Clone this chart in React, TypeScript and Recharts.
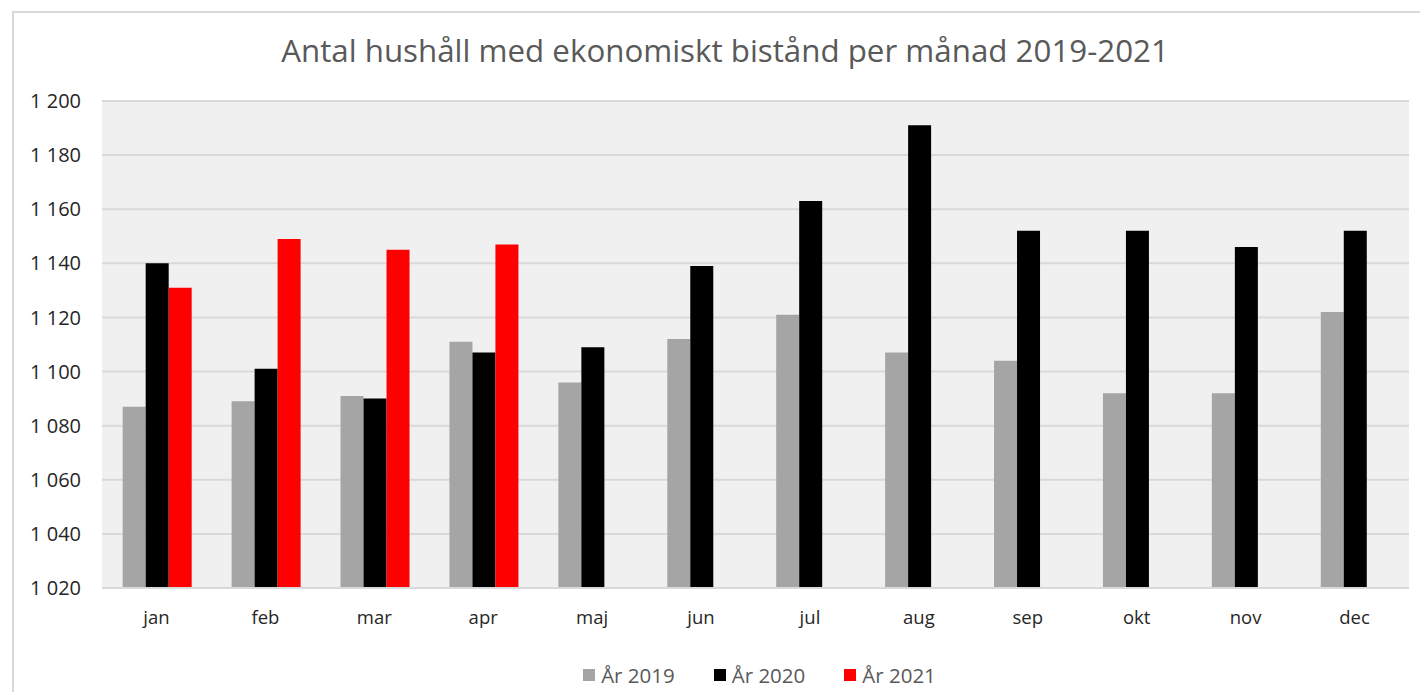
import React from 'react';
import {
  BarChart,
  Bar,
  XAxis,
  YAxis,
  CartesianGrid,
  Legend,
} from 'recharts';

const months = ['jan', 'feb', 'mar', 'apr', 'maj', 'jun', 'jul', 'aug', 'sep', 'okt', 'nov', 'dec'];
const year2019 = [1087, 1089, 1091, 1111, 1096, 1112, 1121, 1107, 1104, 1092, 1092, 1122];
const year2020 = [1140, 1101, 1090, 1107, 1109, 1139, 1163, 1191, 1152, 1152, 1146, 1152];
const year2021 = [1131, 1149, 1145, 1147, null, null, null, null, null, null, null, null];
const yTicks = [1020, 1040, 1060, 1080, 1100, 1120, 1140, 1160, 1180, 1200];

const series = [
  { key: 'y2019', name: 'År 2019', color: '#a5a5a5' },
  { key: 'y2020', name: 'År 2020', color: '#000000' },
  { key: 'y2021', name: 'År 2021', color: '#ff0000' },
];

const data = months.map((m, i) => ({
  month: m,
  y2019: year2019[i],
  y2020: year2020[i],
  y2021: year2021[i],
}));

const FONT = '"Open Sans", "Noto Sans", sans-serif';

// 1200 -> "1 200"
function fmt(v: number): string {
  const s = String(v);
  return s.length > 3 ? s.slice(0, s.length - 3) + ' ' + s.slice(-3) : s;
}

function LegendContent() {
  return (
    <div
      style={{
        display: 'flex',
        justifyContent: 'center',
        gap: 39,
        paddingLeft: 96,
        fontFamily: FONT,
        fontSize: 20.5,
        color: '#595959',
        lineHeight: '26px',
      }}
    >
      {series.map((s) => (
        <div key={s.key} style={{ display: 'flex', alignItems: 'center' }}>
          <span style={{ width: 12, height: 12, background: s.color, marginRight: 6, display: 'inline-block' }} />
          <span>{s.name}</span>
        </div>
      ))}
    </div>
  );
}

export default function App() {
  return (
    <div
      style={{
        position: 'relative',
        left: 4,
        top: 3,
        width: 1414,
        height: 682,
        borderTop: '2px solid #d9d9d9',
        borderLeft: '2px solid #d9d9d9',
        background: '#fff',
        overflow: 'hidden',
      }}
    >
      <div
        style={{
          position: 'absolute',
          top: 16,
          left: 4,
          width: 1414,
          textAlign: 'center',
          fontFamily: FONT,
          fontSize: 31.3,
          color: '#595959',
        }}
      >
        Antal hushåll med ekonomiskt bistånd per månad 2019-2021
      </div>
      <BarChart
        width={1414}
        height={682}
        data={data}
        margin={{ top: 88, right: 19, left: 0, bottom: 0 }}
        barCategoryGap="19%"
        barGap={0}
      >
        <CartesianGrid vertical={false} stroke="#d9d9d9" strokeWidth={2} fill="#f0f0f0" />
        <XAxis
          dataKey="month"
          axisLine={{ stroke: '#d9d9d9', strokeWidth: 2 }}
          tickLine={false}
          tickSize={0}
          tickMargin={23}
          height={81}
          tick={{ fill: '#262626', fontSize: 18.5, fontFamily: FONT }}
        />
        <YAxis
          width={88}
          domain={[1020, 1200]}
          ticks={yTicks}
          allowDataOverflow
          axisLine={false}
          tickLine={false}
          tickSize={0}
          tickMargin={21}
          tickFormatter={fmt}
          tick={{ fill: '#262626', fontSize: 20, fontFamily: FONT }}
        />
        <Legend verticalAlign="bottom" content={<LegendContent />} wrapperStyle={{ bottom: 7 }} />
        {series.map((s) => (
          <Bar key={s.key} dataKey={s.key} name={s.name} fill={s.color} isAnimationActive={false} />
        ))}
      </BarChart>
    </div>
  );
}
